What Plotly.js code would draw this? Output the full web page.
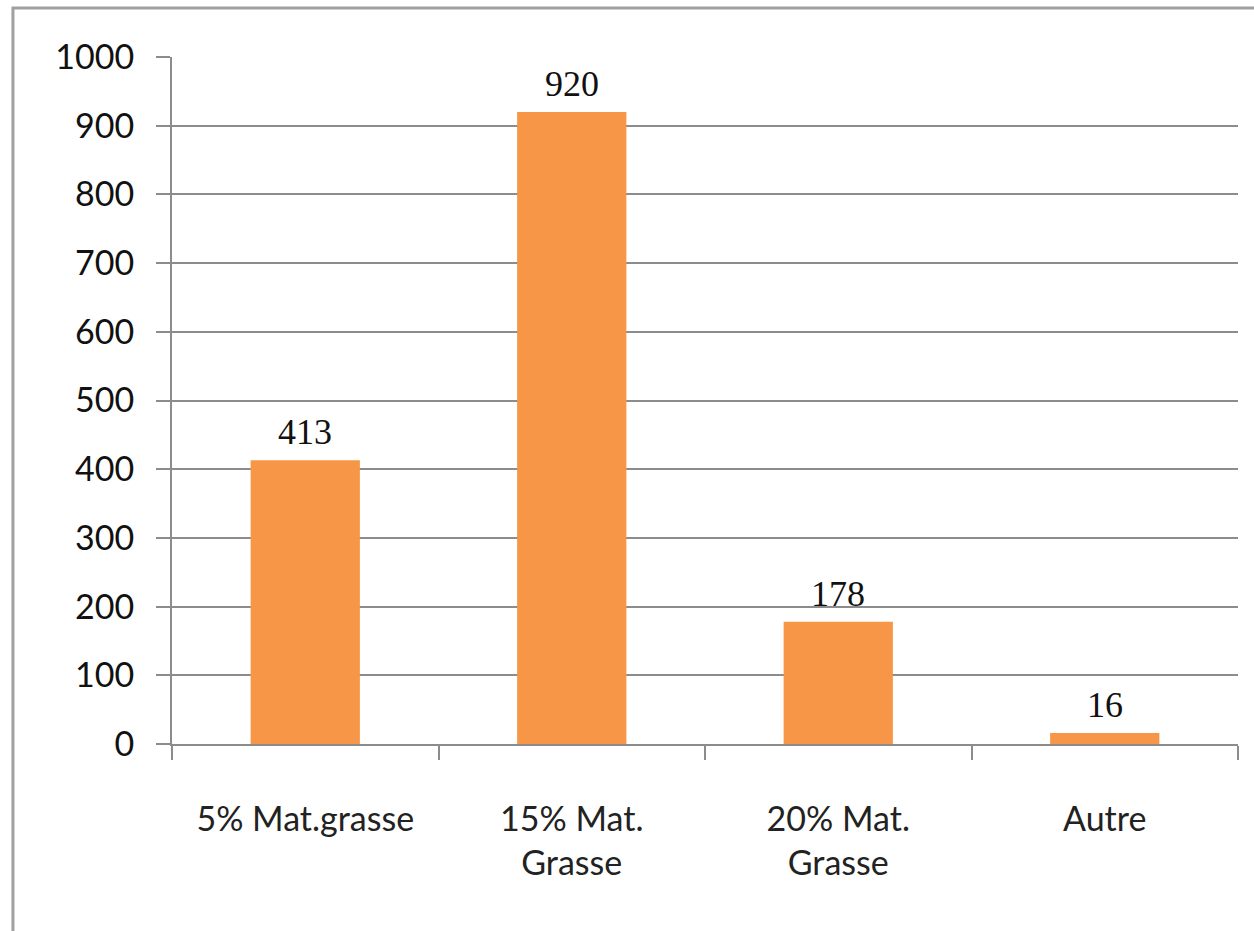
<!DOCTYPE html>
<html><head><meta charset="utf-8">
<script src="https://cdn.plot.ly/plotly-3.0.1.min.js"></script>
<style>html,body{margin:0;padding:0;background:#fff}#chart{width:1254px;height:931px}</style>
</head><body><div id="chart"></div>
<script>
const categories = ["5% Mat.grasse", "15% Mat.<br>Grasse", "20% Mat.<br>Grasse", "Autre"];
const values = [413, 920, 178, 16];
const yTicks = [0, 100, 200, 300, 400, 500, 600, 700, 800, 900, 1000];

const gray = '#8c8c8c';
const annotations = categories.map((c, i) => ({
  x: c, y: values[i], xref: 'x', yref: 'y',
  text: String(values[i]), showarrow: false,
  yanchor: 'bottom', yshift: 6,
  font: {family: 'Liberation Serif, Times New Roman, serif', size: 36, color: '#111'}
}));

const trace = {
  type: 'bar', x: categories, y: values,
  marker: {color: '#F79646'}, width: 0.41,
  hoverinfo: 'none'
};

const layout = {
  width: 1254, height: 931,
  margin: {l: 172, r: 16, t: 57, b: 187},
  paper_bgcolor: '#fff', plot_bgcolor: '#fff',
  showlegend: false,
  font: {family: 'Lato, Liberation Sans, sans-serif', color: '#111'},
  xaxis: {
    type: 'category', tickson: 'boundaries', ticks: 'outside', ticklen: 14,
    tickwidth: 2, tickcolor: gray, showline: true, linecolor: gray, linewidth: 2,
    showgrid: false, tickfont: {size: 34, color: '#222'}, ticklabelstandoff: 44,
    range: [-0.5, 3.5]
  },
  yaxis: {
    range: [0, 1000], tickvals: yTicks, ticks: 'outside', ticklen: 14,
    tickwidth: 2, tickcolor: gray, showline: true, linecolor: gray, linewidth: 2,
    showgrid: true, gridcolor: gray, gridwidth: 2, zeroline: false,
    tickfont: {size: 34, color: '#111'}, ticklabelstandoff: 15
  },
  annotations: annotations,
  shapes: [{
    type: 'path', xref: 'paper', yref: 'paper',
    path: 'M -0.1492,-0.28 L -0.1492,1.0713 L 1.02,1.0713',
    line: {color: '#a0a0a0', width: 3}
  }]
};

Plotly.newPlot('chart', [trace], layout, {staticPlot: true, displayModeBar: false});
</script></body></html>
